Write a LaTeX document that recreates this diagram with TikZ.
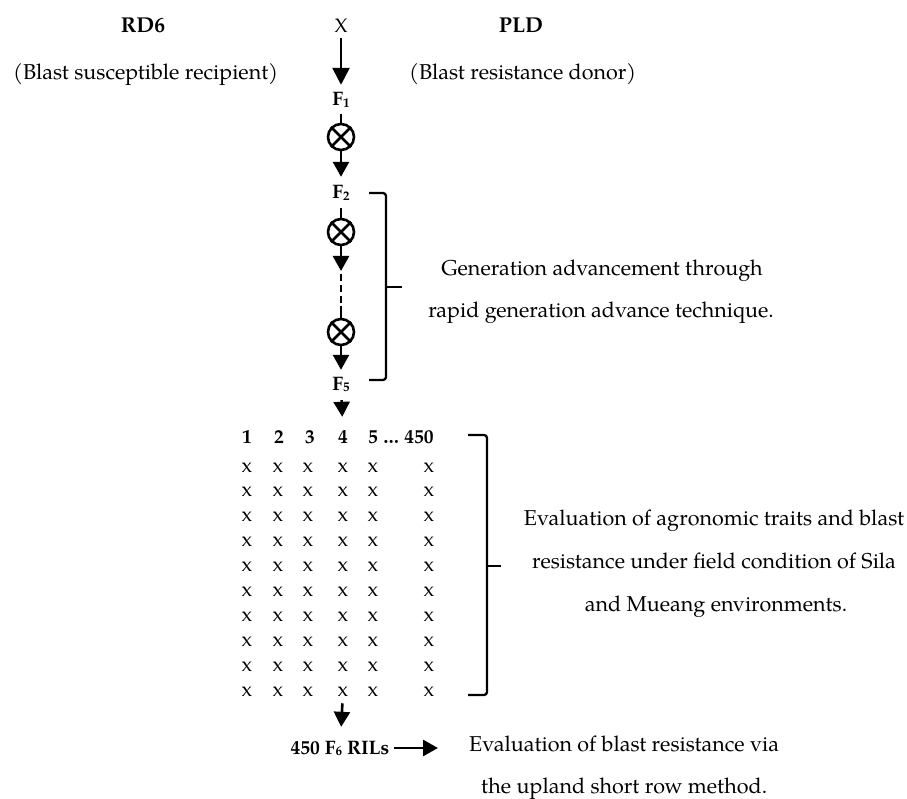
\documentclass[tikz,border=0pt]{standalone}
\usepackage{fontspec}
\setmainfont{TeX Gyre Pagella}
\usetikzlibrary{arrows.meta}
\begin{document}
\begin{tikzpicture}[x=1pt,y=-1pt,
  every node/.style={font=\fontsize{21.5}{25}\selectfont},
  small/.style={font=\fontsize{19.5}{23}\selectfont},
  smallbf/.style={font=\fontsize{19.5}{23}\selectfont\bfseries},
  lab/.style={inner sep=0pt, minimum height=18pt, text height=12pt, text depth=0pt},
  txt/.style={inner sep=0pt, anchor=base},
  cell/.style={inner sep=0pt, minimum height=12pt, text height=8pt, text depth=0pt,
    font=\fontsize{20.5}{23}\selectfont},
  arr/.style={line width=2.6pt, -{Triangle[width=16pt,length=15pt]}},
  bigarr/.style={line width=2.6pt, -{Triangle[width=17pt,length=17pt]}},
  ln/.style={line width=2.6pt},
  selfc/.style={circle, draw, line width=2.6pt, minimum size=26pt, inner sep=0pt},
  brk/.style={line width=2.3pt, rounded corners=3pt}]
\useasboundingbox (0,0) rectangle (907,799);
\newcommand{\Fsub}[1]{\textbf{F\raisebox{-0.2ex}{\fontsize{13}{15}\selectfont #1}}}

% parents
\node[txt, font=\fontsize{21.5}{25}\selectfont\bfseries] (rd6) at (143,33) {RD6};
\node[txt, anchor=base west] (rdd) at (13,80) {(Blast susceptible recipient)};
\node[txt, font=\fontsize{21.5}{25}\selectfont\bfseries] (pld) at (521,33) {PLD};
\node[txt, anchor=base west] (pldd) at (409,80) {(Blast resistance donor)};
\node[lab, small] (cross) at (341,27) {X};

% generations
\node[lab, small] (f1) at (341,100) {\Fsub{1}};
\node[selfc] (o1) at (341,137) {};
\node[lab, small] (f2) at (341,193) {\Fsub{2}};
\node[selfc] (o2) at (341,232) {};
\coordinate (d1) at (341,271);
\coordinate (d2) at (341,306);
\node[selfc] (o3) at (341,332) {};
\node[lab, small] (f5) at (341,384) {\Fsub{5}};
\foreach \o in {o1,o2,o3}{
  \draw[ln] (\o.45) -- (\o.225);
  \draw[ln] (\o.135) -- (\o.315);
}

\draw[bigarr, shorten <=2pt, shorten >=6pt] (cross) -- (f1);
\draw[ln, shorten <=5pt] (f1) -- (o1);
\draw[arr, shorten >=7pt] (o1) -- (f2);
\draw[ln, shorten <=6pt] (f2) -- (o2);
\draw[arr] (o2) -- (d1);
\draw[ln, dash pattern=on 7pt off 4pt, shorten <=3pt] (d1) -- (d2);
\draw[ln] (d2) -- (o3);
\draw[arr, shorten >=5pt] (o3) -- (f5);

% bracket 1
\draw[brk] (369,193) -- (386,193) -- (386,380) -- (369,380);
\draw[line width=2.3pt] (386,287) -- (402,287);
\node[txt] (gen1) at (602,276) {Generation advancement through};
\node[txt] (gen2) at (601,318) {rapid generation advance technique.};

% header row
\node[lab, smallbf] (h1) at (247,437) {1};
\node[lab, smallbf] (h2) at (279,437) {2};
\node[lab, smallbf] (h3) at (310,437) {3};
\node[lab, smallbf] (h4) at (343,437) {4};
\node[lab, anchor=west, smallbf] (h5) at (368,437) {5 … 450};
\draw[arr, shorten <=7pt, shorten >=11pt] (f5) -- (h4);

% grid of crosses
\foreach \r in {0,...,9}{
  \foreach \c/\xx in {1/247,2/278,3/308,4/343,5/373,6/429}{
    \node[cell] (x-\r-\c) at (\xx,{468+24.9*\r}) {x};
  }
}

% bracket 2
\draw[brk] (468,435) -- (487,435) -- (487,695) -- (468,695);
\draw[line width=2.3pt] (487,566) -- (501,566);
\node[txt] (ev1) at (714,525) {Evaluation of agronomic traits and blast};
\node[txt] (ev2) at (714,568) {resistance under field condition of Sila};
\node[txt] (ev3) at (716,611) {and Mueang environments.};

% RILs
\node[lab, smallbf] (rils) at (340,748) {450 \Fsub{6} RILs};
\draw[arr, shorten <=5pt, shorten >=12pt] (x-9-4) -- (rils);
\node[txt, anchor=base west] (b1) at (469,751) {Evaluation of blast resistance via};
\node[txt] (b2) at ([yshift=-42pt]b1.base) {the upland short row method.};
\draw[arr, shorten <=5pt, shorten >=31pt] (rils) -- (rils -| b1.west);
\end{tikzpicture}
\end{document}
